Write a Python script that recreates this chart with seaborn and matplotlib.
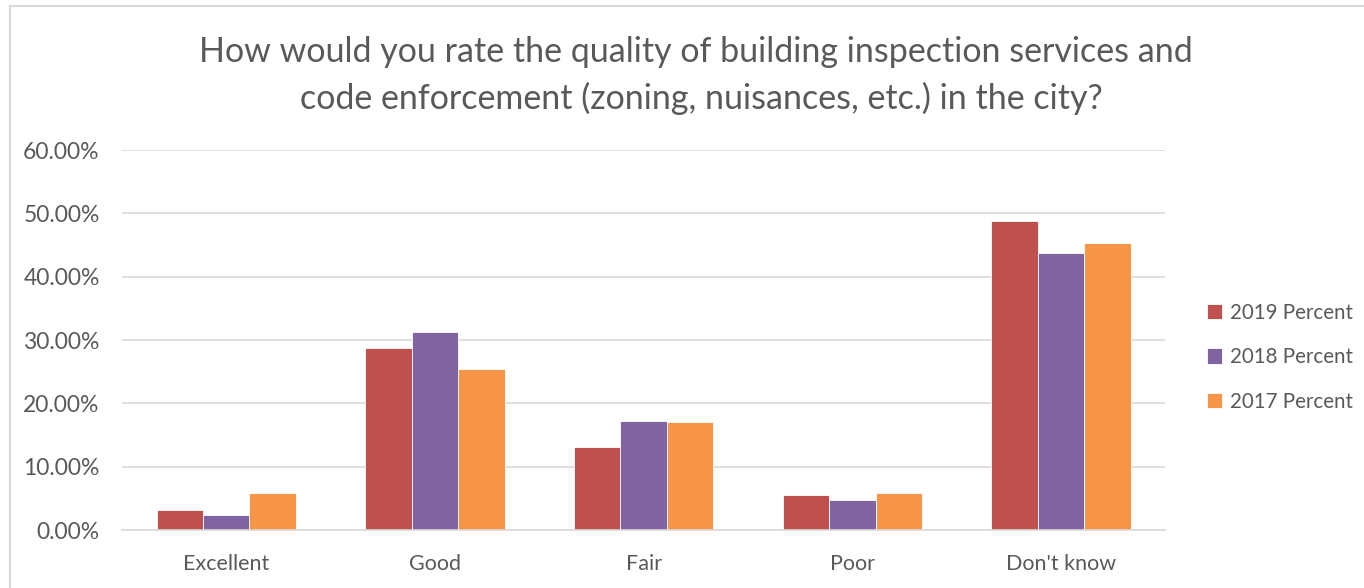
import matplotlib
matplotlib.use("Agg")
import matplotlib.pyplot as plt
import matplotlib.patches as mpatches
from matplotlib.ticker import FuncFormatter
import seaborn as sns
import pandas as pd

categories = ["Excellent", "Good", "Fair", "Poor", "Don't know"]
series_names = ["2019 Percent", "2018 Percent", "2017 Percent"]
pct_2019 = [3.2, 28.8, 13.1, 5.6, 48.8]
pct_2018 = [2.3, 31.3, 17.2, 4.8, 43.8]
pct_2017 = [5.8, 25.5, 17.0, 5.8, 45.4]
colors = ["#C0504D", "#8064A2", "#F79646"]

rows = []
for name, vals in zip(series_names, [pct_2019, pct_2018, pct_2017]):
    for c, v in zip(categories, vals):
        rows.append({"Category": c, "Series": name, "Value": v})
df = pd.DataFrame(rows)

sns.set_theme(style="white")
plt.rcParams['font.family'] = ['Lato', 'DejaVu Sans']
text_color = "#595959"

fig = plt.figure(figsize=(13.64, 5.88), dpi=100)
ax = fig.add_axes([0.0894, 0.0986, 0.765, 0.646])

sns.barplot(data=df, x="Category", y="Value", hue="Series", order=categories,
            hue_order=series_names, palette=colors, width=0.667, ax=ax,
            edgecolor="white", linewidth=0.6, saturation=1, legend=True)

ax.set_ylim(0, 60)
ax.set_yticks(range(0, 61, 10))
ax.yaxis.set_major_formatter(FuncFormatter(lambda v, p: f"{v:.2f}%"))
ax.set_xlabel("")
ax.set_ylabel("")
ax.grid(axis="y", color="#D9D9D9", linewidth=1.2)
ax.set_axisbelow(True)
for s in ["top", "right", "left"]:
    ax.spines[s].set_visible(False)
ax.spines["bottom"].set_color("#D9D9D9")
ax.spines["bottom"].set_linewidth(1.2)
ax.tick_params(axis="both", length=0, colors=text_color)
ax.tick_params(axis="y", pad=16, labelsize=16.5)
ax.tick_params(axis="x", pad=17, labelsize=15.5)

leg = ax.legend(loc="center left", bbox_to_anchor=(1.022, 0.455), frameon=False,
                fontsize=14.8, labelcolor=text_color, handlelength=0.75,
                handleheight=0.75, handletextpad=0.4, labelspacing=1.2)

fig.text(0.510, 0.912, "How would you rate the quality of building inspection services and",
         ha="center", va="center", fontsize=24.5, color=text_color)
fig.text(0.514, 0.832, "code enforcement (zoning, nuisances, etc.) in the city?",
         ha="center", va="center", fontsize=24.5, color=text_color)

border = mpatches.Rectangle((0.007, -0.01), 1.0, 1.0, transform=fig.transFigure,
                            fill=False, edgecolor="#D9D9D9", linewidth=1.5)
fig.patches.append(border)

fig.savefig("out.png", dpi=100, facecolor="white")
